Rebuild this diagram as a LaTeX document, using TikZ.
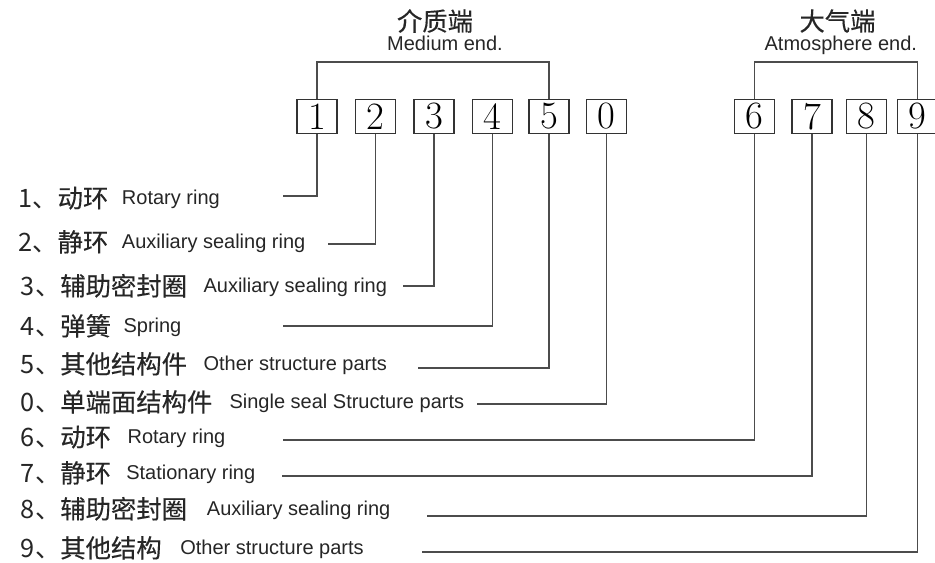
\documentclass[tikz,border=0pt]{standalone}
\usepackage{fontspec}
\newfontfamily\cjk[FakeBold=0.3]{Noto Sans CJK SC}
\newfontfamily\cjkr{Noto Sans CJK SC}
\newfontfamily\en{Liberation Sans}
\begin{document}
\begin{tikzpicture}[x=0.75pt,y=-0.75pt,
  numbox/.style={draw=black!80, line width=0.8pt, minimum width=30pt, minimum height=25.5pt, inner sep=0pt, font=\fontsize{29}{29}\selectfont},
  conn/.style={draw=black!70, line width=0.8pt},
  cjklab/.style={anchor=base west, inner sep=0pt, font=\cjk\fontsize{19}{19}\selectfont, text=black!85},
  enlab/.style={anchor=base west, inner sep=0pt, font=\en\fontsize{15}{15}\selectfont, text=black!85},
  cjktitle/.style={inner sep=0pt, font=\cjk\fontsize{19}{19}\selectfont, text=black!85},
  entitle/.style={anchor=base, inner sep=0pt, font=\en\fontsize{15}{15}\selectfont, text=black!85}]
\useasboundingbox (0,0) rectangle (935,562);
\fill[white] (0,0) rectangle (935,562);
% titles
\node[cjktitle] (t1) at (435,21) {介质端};
\node[entitle] (t1e) at (445,50.5) {Medium end.};
\node[cjktitle] (t2) at (837.5,21) {大气端};
\node[entitle] (t2e) at (840.8,50) {Atmosphere end.};
% boxes
\foreach \k/\x in {1/317,2/375.5,3/434,4/492.5,5/549,0/606.5,6/754.5,7/812,8/866.5,9/917.5}
  \node[numbox] (b\k) at (\x,116.3) {\k};
% brackets
\coordinate (m1) at (433,62);
\coordinate (m2) at (836,62);
\draw[conn] (b1.north) |- (m1) -| (b5.north);
\draw[conn] (b6.north) |- (m2) -| (b9.north);
% rows
\foreach \k/\c/\cx/\e/\ex/\ty/\ly/\lx in {
  1/动环/18/Rotary ring/121.7/199/196/283,
  2/静环/18/Auxiliary sealing ring/121.7/243/244/328,
  3/辅助密封圈/20.7/Auxiliary sealing ring/203.3/287/286/403,
  4/弹簧/20.7/Spring/123.3/327/326/283,
  5/其他结构件/20.7/Other structure parts/203.3/365/368/418,
  0/单端面结构件/20.7/Single seal Structure parts/229.3/403/404/477,
  6/动环/20.7/Rotary ring/127.3/438/440/283,
  7/静环/20.7/Stationary ring/126/474/476/282,
  8/辅助密封圈/20.7/Auxiliary sealing ring/206.7/510/516/427,
  9/其他结构/20.7/Other structure parts/180/549/552/422}
{
  \node[cjklab] (c\k) at (\cx,\ty+8.5) {{\cjkr\k、}\c};
  \node[enlab] (e\k) at (\ex,\ty+5.3) {\e};
  \coordinate (s\k) at (\lx,\ly);
  \draw[conn] (s\k) -| (b\k.south);
}
\end{tikzpicture}
\end{document}
